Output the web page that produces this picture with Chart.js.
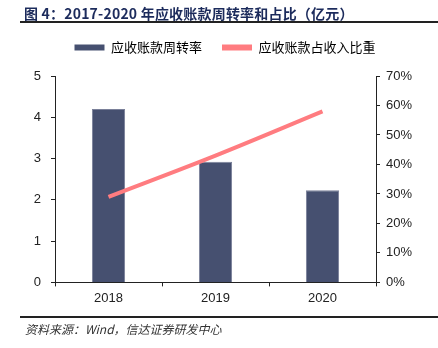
<!DOCTYPE html>
<html>
<head>
<meta charset="utf-8">
<script src="https://cdn.jsdelivr.net/npm/chart.js@4.4.1/dist/chart.umd.min.js"></script>
<style>
  html, body { margin: 0; padding: 0; background: #fff; }
  #wrap { position: relative; width: 438px; height: 348px; overflow: hidden; }
  #chart { position: absolute; left: 0; top: 0; }
  .title {
    position: absolute; left: 24px; top: 3px;
    font-family: "Noto Sans CJK SC", "Liberation Sans", sans-serif;
    font-weight: bold; font-size: 14px; color: #1c2b5c; white-space: nowrap;
    letter-spacing: 0.2px;
  }
  .rule { position: absolute; left: 20px; width: 418px; height: 1.5px; background: #222; }
  .source {
    position: absolute; left: 25px; top: 320px;
    font-family: "Noto Sans CJK SC", "Liberation Sans", sans-serif;
    font-style: italic; font-size: 12px; color: #333; white-space: nowrap;
  }
</style>
</head>
<body>
<div id="wrap">
  <canvas id="chart" width="438" height="348"></canvas>
  <div class="title">图 4：2017-2020 年应收账款周转率和占比（亿元）</div>
  <div class="rule" style="top:21px"></div>
  <div class="rule" style="top:316px"></div>
  <div class="source">资料来源：Wind，信达证券研发中心</div>
</div>
<script>
// data
const years = ['2018', '2019', '2020'];
const turnover = [4.2, 2.92, 2.23];      // 应收账款周转率
const share = [0.29, 0.43, 0.58];        // 应收账款占收入比重
const leftTicks = [0, 1, 2, 3, 4, 5];
const rightTicks = [0, 0.1, 0.2, 0.3, 0.4, 0.5, 0.6, 0.7];

const font = { family: '"Liberation Sans", "Noto Sans CJK SC", sans-serif', size: 13 };
const cjkFont = { family: '"Noto Sans CJK SC", sans-serif', size: 13 };

// push the plot down a bit below the legend
const legendGap = {
  id: 'legendGap',
  beforeInit(chart) {
    const fit = chart.legend.fit;
    chart.legend.fit = function () {
      fit.call(this);
      this.height += 12;
    };
  }
};

const ctx = document.getElementById('chart').getContext('2d');
new Chart(ctx, {
  data: {
    labels: years,
    datasets: [
      {
        type: 'line',
        label: '应收账款占收入比重',
        data: share,
        yAxisID: 'y1',
        borderColor: '#ff7c80',
        backgroundColor: '#ff7c80',
        borderWidth: 4,
        pointRadius: 0,
        tension: 0.35,
        order: 0
      },
      {
        type: 'bar',
        label: '应收账款周转率',
        data: turnover,
        yAxisID: 'y',
        backgroundColor: '#465070',
        borderColor: '#7a8099',
        borderWidth: 1,
        barPercentage: 0.31,
        categoryPercentage: 1,
        order: 1
      }
    ]
  },
  plugins: [legendGap],
  options: {
    responsive: false,
    animation: false,
    layout: { padding: { left: 12, right: 0, top: 21, bottom: 38 } },
    plugins: {
      tooltip: { enabled: false },
      legend: {
        reverse: true,
        labels: {
          font: cjkFont,
          color: '#222',
          boxWidth: 30,
          boxHeight: 6,
          padding: 20,
          generateLabels(chart) {
            return chart.data.datasets.map((ds, i) => ({
              text: ds.label,
              fillStyle: ds.backgroundColor,
              strokeStyle: ds.backgroundColor,
              lineWidth: 0,
              datasetIndex: i
            }));
          }
        }
      }
    },
    scales: {
      x: {
        grid: { display: true, drawOnChartArea: false, offset: true, color: '#222', tickLength: 4 },
        border: { color: '#222', width: 1 },
        ticks: { font: font, color: '#222', padding: 4 }
      },
      y: {
        position: 'left',
        min: 0, max: 5,
        afterBuildTicks(scale) { scale.ticks = leftTicks.map(v => ({ value: v })); },
        afterFit(scale) { scale.width = 43; },
        grid: { drawOnChartArea: false, color: '#222', tickLength: 4 },
        border: { color: '#222', width: 1 },
        ticks: { font: font, color: '#222', padding: 10 }
      },
      y1: {
        position: 'right',
        min: 0, max: 0.7,
        afterBuildTicks(scale) { scale.ticks = rightTicks.map(v => ({ value: v })); },
        afterFit(scale) { scale.width = 62; },
        grid: { drawOnChartArea: false, color: '#222', tickLength: 4 },
        border: { color: '#222', width: 1 },
        ticks: {
          font: font, color: '#222', padding: 6,
          callback: v => Math.round(v * 100) + '%'
        }
      }
    }
  }
});
</script>
</body>
</html>
